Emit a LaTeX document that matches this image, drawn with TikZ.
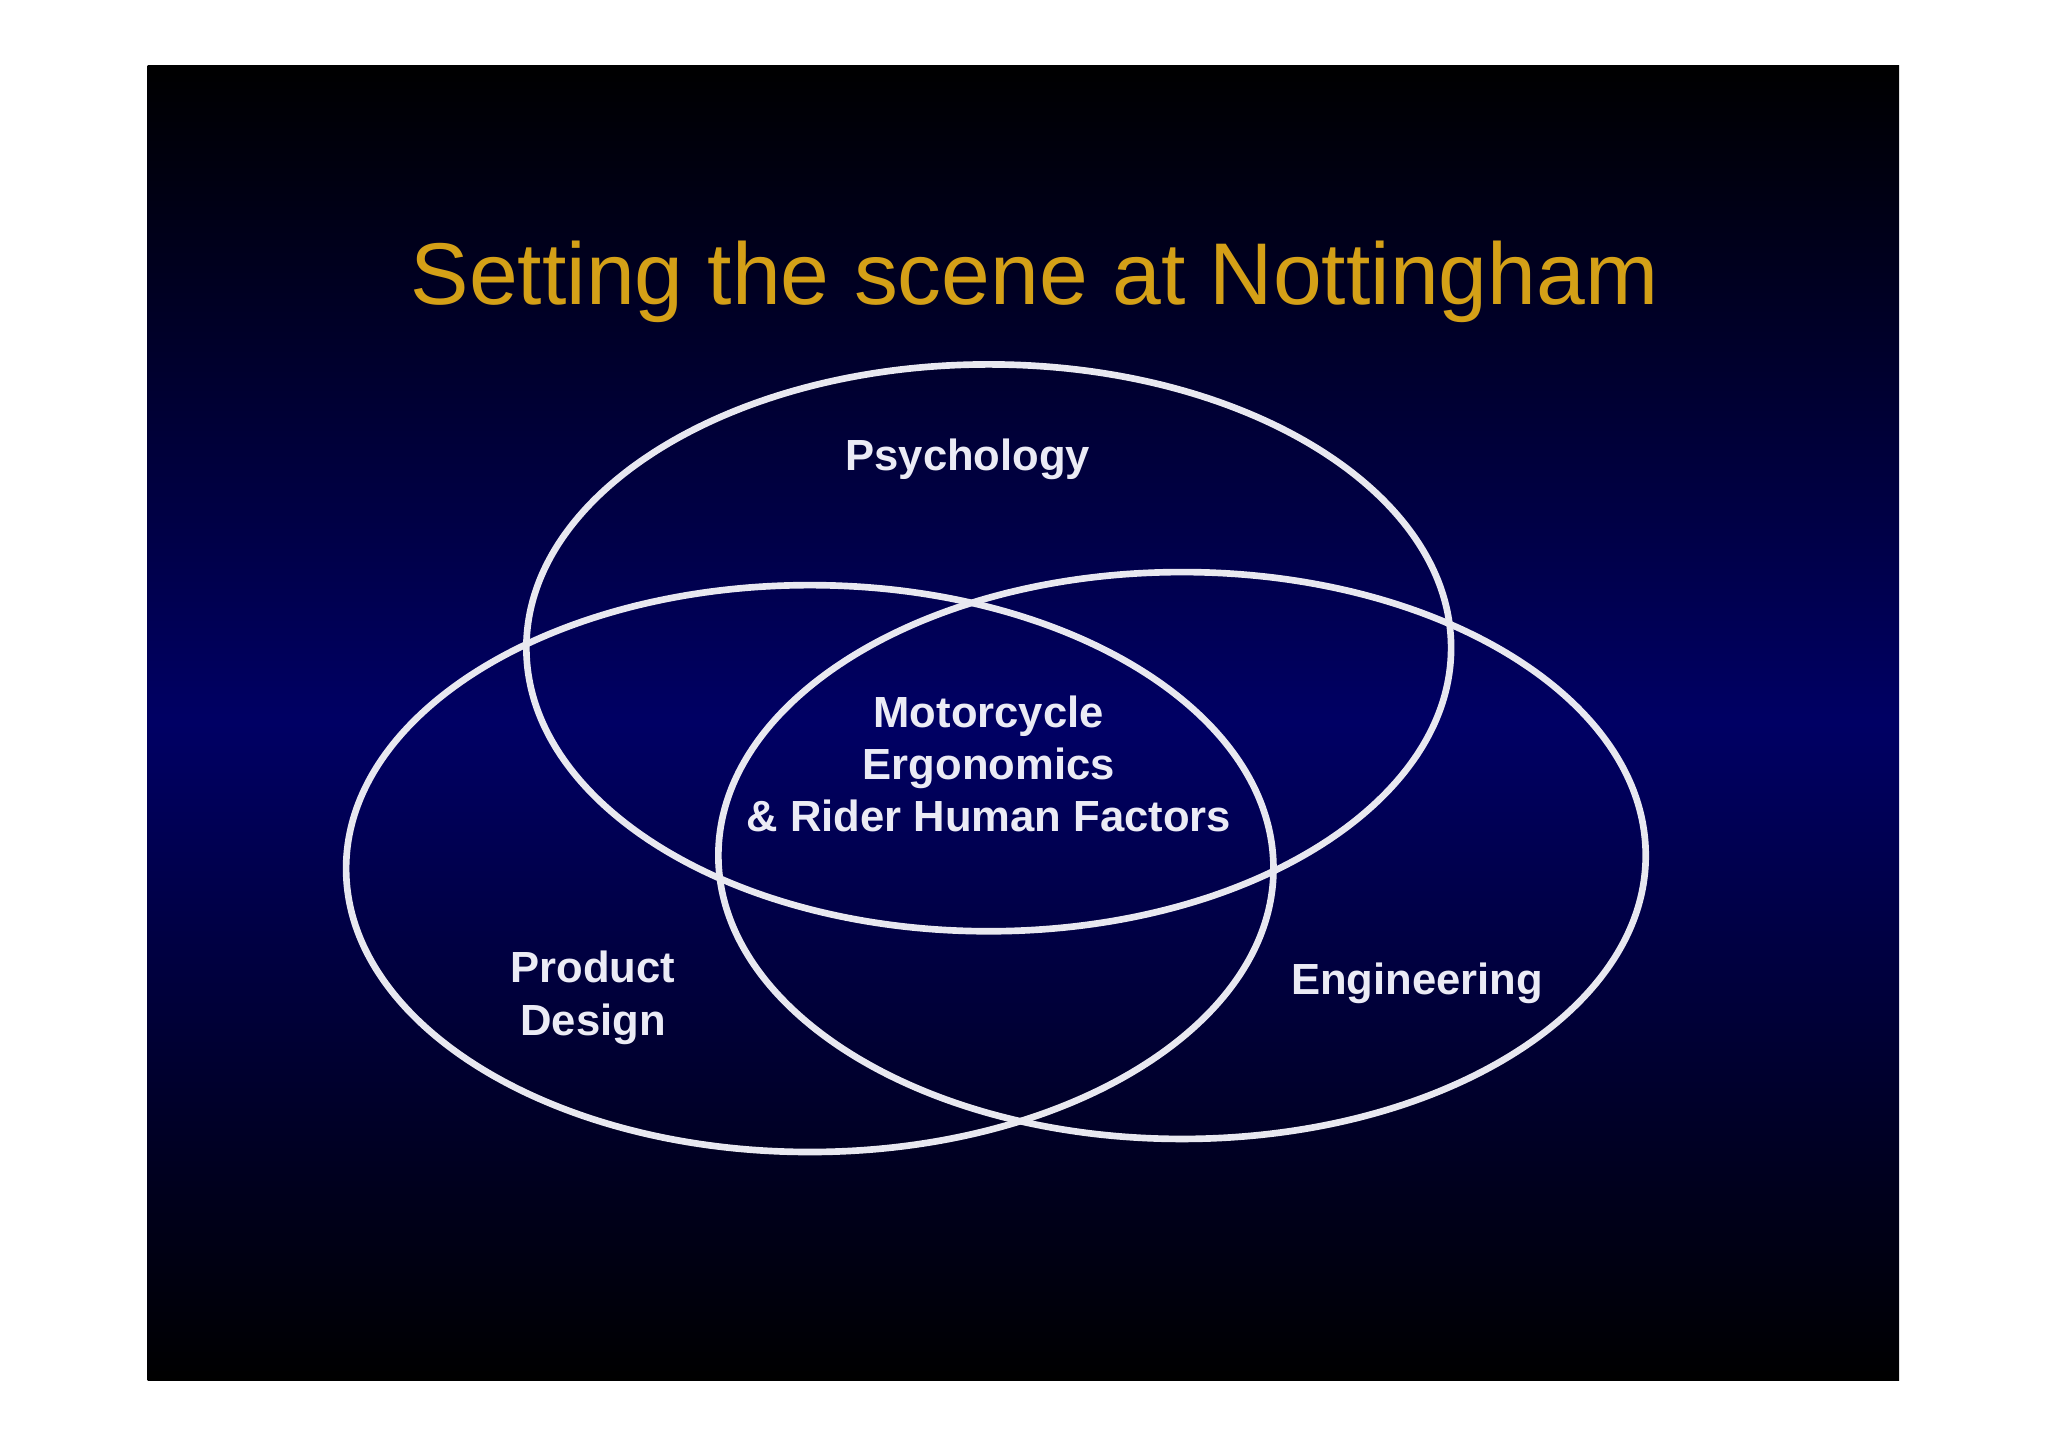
\documentclass[tikz,border=0pt]{standalone}
\usepackage{fontspec}
\setmainfont{Liberation Sans}
\begin{document}
\begin{tikzpicture}[x=0.02cm,y=-0.02cm,
  ring/.style={draw={rgb,255:red,232;green,232;blue,240},line width=2.9pt},
  lab/.style={text={rgb,255:red,235;green,235;blue,245},font=\bfseries\fontsize{19}{22.8}\selectfont,align=center}]
\useasboundingbox (0,0) rectangle (1568,1108);
\fill[white] (0,0) rectangle (1568,1108);
\shade[top color=black,bottom color=black,middle color={rgb,255:red,0;green,0;blue,100}] (113,50) rectangle (1454,1057);
\node[text={rgb,255:red,212;green,160;blue,23},font=\fontsize{38.2}{44}\selectfont] (title) at (792,216) {Setting the scene at Nottingham};
\draw[ring] (757,496) ellipse [x radius=354,y radius=217];
\draw[ring] (620,665) ellipse [x radius=355,y radius=217];
\draw[ring] (905,655) ellipse [x radius=355,y radius=217];
\node[lab] (psy) at (741,352) {Psychology};
\node[lab] (mid) at (757,585) {Motorcycle\\Ergonomics\\\& Rider Human Factors};
\node[lab] (pd) at (454,764) {Product\\Design};
\node[lab] (eng) at (1085,753) {Engineering};
\end{tikzpicture}
\end{document}
